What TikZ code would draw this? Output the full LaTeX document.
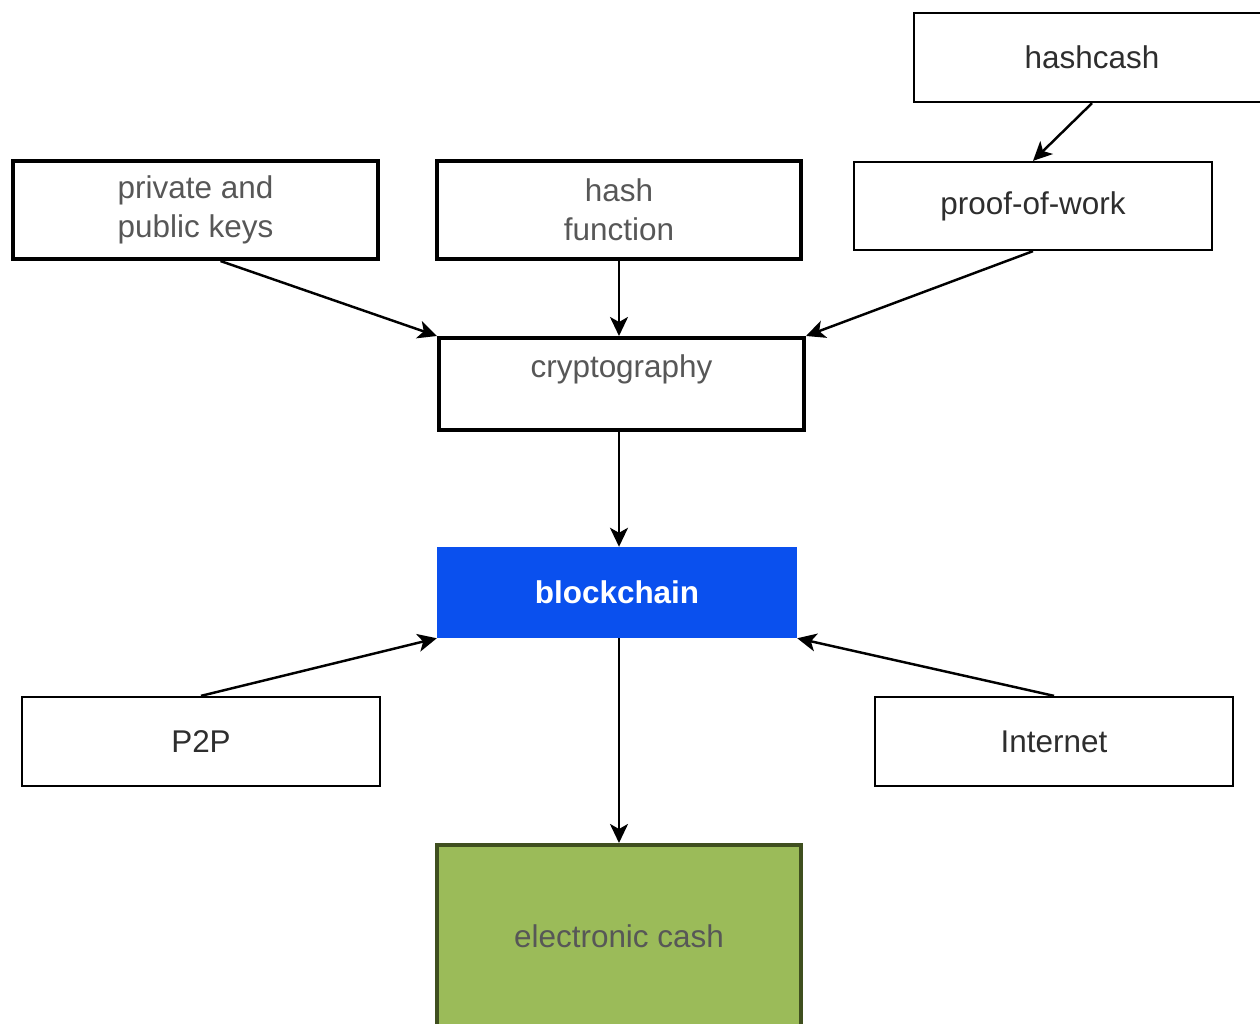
\documentclass[tikz,border=0pt]{standalone}
\usepackage{fontspec}
\setmainfont{Liberation Sans}
\usepackage{tikz}
\usetikzlibrary{arrows.meta}

\definecolor{textgray}{HTML}{575757}
\definecolor{darkgray}{HTML}{2E2E2E}
\definecolor{chainblue}{HTML}{0A50EE}
\definecolor{cashgreen}{HTML}{9BBB59}
\definecolor{cashborder}{HTML}{3F4F1F}

\begin{document}
\begin{tikzpicture}[>={Stealth[length=0.38cm, width=0.36cm, inset=0.1cm]}, line width=1.4pt,
    box/.style={rectangle, draw=black, inner sep=0pt, align=center, text=textgray,
        font=\fontsize{17.9}{22}\selectfont},
    heavy box/.style={box, line width=2.3pt},
    light box/.style={box, line width=1.3pt, text=darkgray}]
        \useasboundingbox (0,0) rectangle (25.2,-20.46);

        % Nodes
        \node[light box, minimum width=7.12cm, minimum height=1.78cm] (hashcash) at (21.84,-1.15) {hashcash};
        \node[light box, minimum width=7.16cm, minimum height=1.76cm] (pow) at (20.66,-4.12) {proof-of-work};
        \node[heavy box, minimum width=7.3cm, minimum height=1.96cm] (keys) at (3.91,-4.2) {private and\\public keys};
        \node[heavy box, minimum width=7.28cm, minimum height=1.96cm] (hashfn) at (12.38,-4.2) {hash\\function};
        \node[heavy box, minimum width=7.3cm, minimum height=1.84cm, text depth=0.73cm] (crypto) at (12.43,-7.68) {cryptography};
        \node[box, draw=chainblue, fill=chainblue, text=white, minimum width=7.16cm, minimum height=1.78cm,
            font=\fontsize{17.9}{22}\selectfont\bfseries] (chain) at (12.34,-11.85) {blockchain};
        \node[light box, minimum width=7.16cm, minimum height=1.78cm] (p2p) at (4.02,-14.83) {P2P};
        \node[light box, minimum width=7.16cm, minimum height=1.78cm] (internet) at (21.08,-14.83) {Internet};
        \node[heavy box, draw=cashborder, fill=cashgreen, minimum width=7.28cm, minimum height=3.64cm] (cash) at (12.38,-18.72) {electronic cash};

        % Arrows
        \draw[->] (hashcash.south) -- (pow.north);
        \draw[->] ([xshift=0.5cm]keys.south) -- (crypto.north west);
        \draw[->] (hashfn.south) -- (hashfn.south |- crypto.north);
        \draw[->] (pow.south) -- (crypto.north east);
        \draw[->] (hashfn.south |- crypto.south) -- (hashfn.south |- chain.north);
        \draw[->] (p2p.north) -- (chain.south west);
        \draw[->] (internet.north) -- (chain.south east);
        \draw[->] (cash.north |- chain.south) -- (cash.north);
    \end{tikzpicture}
\end{document}
